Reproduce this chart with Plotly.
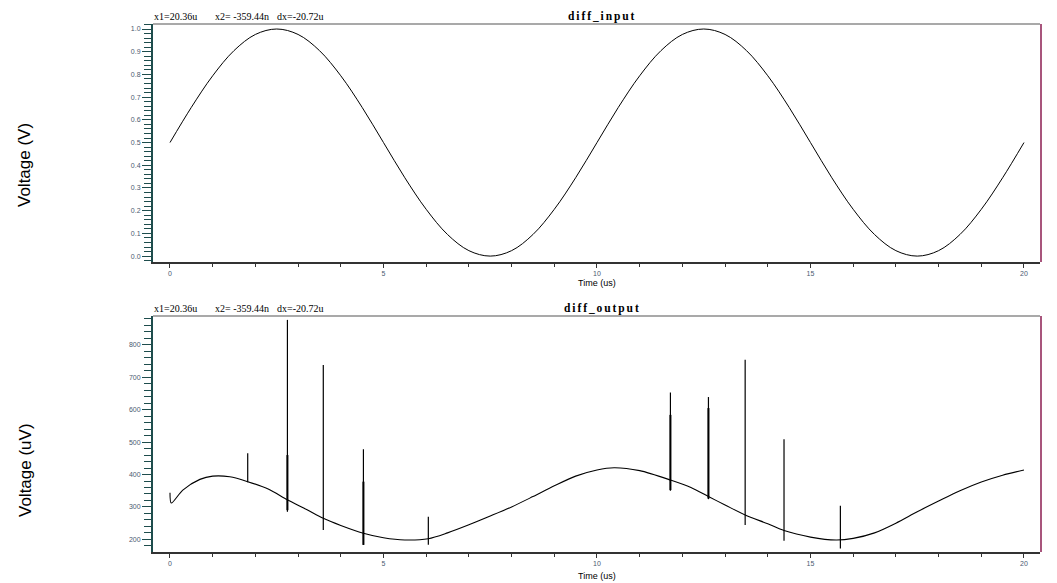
import plotly.graph_objects as go

# ---------------- data ----------------
t_in = [0, 0.5, 1, 1.5, 2, 2.5, 3, 3.5, 4, 4.5, 5, 5.5, 6, 6.5, 7, 7.5, 8, 8.5, 9, 9.5,
        10, 10.5, 11, 11.5, 12, 12.5, 13, 13.5, 14, 14.5, 15, 15.5, 16, 16.5, 17, 17.5,
        18, 18.5, 19, 19.5, 20]
v_in = [0.5, 0.655, 0.794, 0.905, 0.976, 1.0, 0.976, 0.905, 0.794, 0.655, 0.5, 0.345,
        0.206, 0.095, 0.024, 0.0, 0.024, 0.095, 0.206, 0.345,
        0.5, 0.655, 0.794, 0.905, 0.976, 1.0, 0.976, 0.905, 0.794, 0.655, 0.5, 0.345,
        0.206, 0.095, 0.024, 0.0, 0.024, 0.095, 0.206, 0.345, 0.5]

t_out = [0, 0.03, 0.3, 0.7, 1.0, 1.4, 1.82, 2.3, 2.75, 3.2, 3.59, 4.0, 4.53, 5.0, 5.5,
         6.05, 6.5, 7.0, 7.5, 8.0, 8.5, 9.0, 9.5, 10.0, 10.4, 11.0, 11.72, 12.2, 12.61,
         13.0, 13.47, 14.0, 14.38, 15.0, 15.6, 16.0, 16.5, 17.0, 17.5, 18.0, 18.5, 19.0,
         19.5, 20.0]
v_out = [344, 312, 352, 385, 395, 393, 378, 355, 322, 292, 265, 243, 219, 205, 198,
         202, 220, 245, 272, 300, 332, 365, 395, 414, 421, 412, 383, 360, 332,
         306, 275, 248, 227, 207, 198, 203, 220, 250, 285, 318, 350, 377,
         398, 414]

spike_t = [1.82, 2.75, 3.59, 4.53, 6.05, 11.72, 12.61, 13.47, 14.38, 15.70]
spike_low = [376, 285, 229, 183, 183, 350, 324, 244, 196, 172]
spike_high = [466, 877, 738, 478, 270, 653, 639, 754, 509, 304]

thick_t = [2.75, 4.53, 11.72, 12.61]
thick_low = [290, 183, 352, 326]
thick_high = [460, 378, 584, 605]

titles = ["diff_input", "diff_output"]
cursor_texts = ["x1=20.36u", "x2= -359.44n", "dx=-20.72u"]

# ---------------- layout constants ----------------
W, H = 1057, 583
def px(x):
    return x / W
def py(y):
    return 1 - y / H

XL, XR = 153, 1040
TOP1, BOT1 = 24, 262
TOP2, BOT2 = 316, 552

def seg(ts, lo, hi):
    xs, ys = [], []
    for t, a, b in zip(ts, lo, hi):
        xs += [t, t, None]
        ys += [a, b, None]
    return xs, ys

fig = go.Figure()
fig.add_trace(go.Scatter(x=t_in, y=v_in, mode="lines", line=dict(color="black", width=1, shape="spline"),
                         xaxis="x", yaxis="y", showlegend=False, hoverinfo="skip"))
fig.add_trace(go.Scatter(x=t_out, y=v_out, mode="lines", line=dict(color="black", width=1.1, shape="spline", smoothing=0.8),
                         xaxis="x2", yaxis="y2", showlegend=False, hoverinfo="skip"))
sx, sy = seg(spike_t, spike_low, spike_high)
fig.add_trace(go.Scatter(x=sx, y=sy, mode="lines", line=dict(color="black", width=1.2),
                         xaxis="x2", yaxis="y2", showlegend=False, hoverinfo="skip"))
kx, ky = seg(thick_t, thick_low, thick_high)
fig.add_trace(go.Scatter(x=kx, y=ky, mode="lines", line=dict(color="black", width=2),
                         xaxis="x2", yaxis="y2", showlegend=False, hoverinfo="skip"))

tickfont = dict(family="Liberation Sans", size=7, color="#4a5a70")
xcommon = dict(range=[-0.398, 20.375], showgrid=False, zeroline=False, showline=True, automargin=False,
               linecolor="#333333", linewidth=1.5, ticks="outside", ticklen=4, tickcolor="#333333",
               tickwidth=1, tick0=0, dtick=5, tickfont=tickfont,
               minor=dict(dtick=1, ticks="outside", ticklen=3, tickcolor="#333333", tickwidth=1))
ycommon = dict(showgrid=False, zeroline=False, showline=True, linecolor="#1e4d4d", linewidth=2, automargin=False,
               ticks="outside", ticklen=9, tickcolor="#1e4d4d", tickwidth=1.2, tickfont=tickfont)

fig.update_layout(
    width=W, height=H, margin=dict(l=0, r=0, t=0, b=0, autoexpand=False),
    paper_bgcolor="white", plot_bgcolor="white",
    xaxis=dict(domain=[px(XL), px(XR)], anchor="y", **xcommon),
    yaxis=dict(domain=[py(BOT1), py(TOP1)], anchor="x", range=[-0.026, 1.022], tick0=0, dtick=0.1,
               tickformat=".1f", minor=dict(dtick=0.02, ticks="outside", ticklen=7, tickcolor="#1e4d4d", tickwidth=1.2),
               **ycommon),
    xaxis2=dict(domain=[px(XL), px(XR)], anchor="y2", **xcommon),
    yaxis2=dict(domain=[py(BOT2), py(TOP2)], anchor="x2", range=[161, 889], tick0=0, dtick=100,
                minor=dict(dtick=20, ticks="outside", ticklen=7, tickcolor="#1e4d4d", tickwidth=1.2),
                **ycommon),
)

shapes = []
for top, bot in [(TOP1, BOT1), (TOP2, BOT2)]:
    shapes.append(dict(type="line", xref="paper", yref="paper", x0=px(XL), x1=px(XR), y0=py(top), y1=py(top),
                       line=dict(color="#555555", width=1.2)))
    shapes.append(dict(type="line", xref="paper", yref="paper", x0=px(XR + 1), x1=px(XR + 1), y0=py(top), y1=py(bot),
                       line=dict(color="#8b1c50", width=1.5)))
fig.update_layout(shapes=shapes)

ann = []
serif = "Liberation Serif"
sp = "\u2006"
for ytxt, title in zip([17, 308], titles):
    for xpos, txt in zip([152, 213, 275], cursor_texts):
        ann.append(dict(x=px(xpos), y=py(ytxt), xref="paper", yref="paper", text=txt, showarrow=False,
                        xanchor="left", yanchor="middle", font=dict(family=serif, size=10, color="black")))
    ann.append(dict(x=px(601), y=py(ytxt), xref="paper", yref="paper", text="<b>" + sp.join(title) + "</b>",
                    showarrow=False, xanchor="center", yanchor="middle",
                    font=dict(family=serif, size=11.5, color="black")))
for ytxt in [283, 576]:
    ann.append(dict(x=px(597), y=py(ytxt), xref="paper", yref="paper", text="Time (us)", showarrow=False,
                    xanchor="center", yanchor="middle", font=dict(family="Liberation Sans", size=9, color="black")))
for ytxt, txt in [(165, "Voltage (V)"), (470, "Voltage (uV)")]:
    ann.append(dict(x=px(25), y=py(ytxt), xref="paper", yref="paper", text=txt, showarrow=False, textangle=-90,
                    xanchor="center", yanchor="middle", font=dict(family="Liberation Sans", size=17, color="black")))
fig.update_layout(annotations=ann)

fig.write_html("out.html", config={"displayModeBar": False},
               post_script="document.body.style.margin='0';document.body.style.padding='0';")
